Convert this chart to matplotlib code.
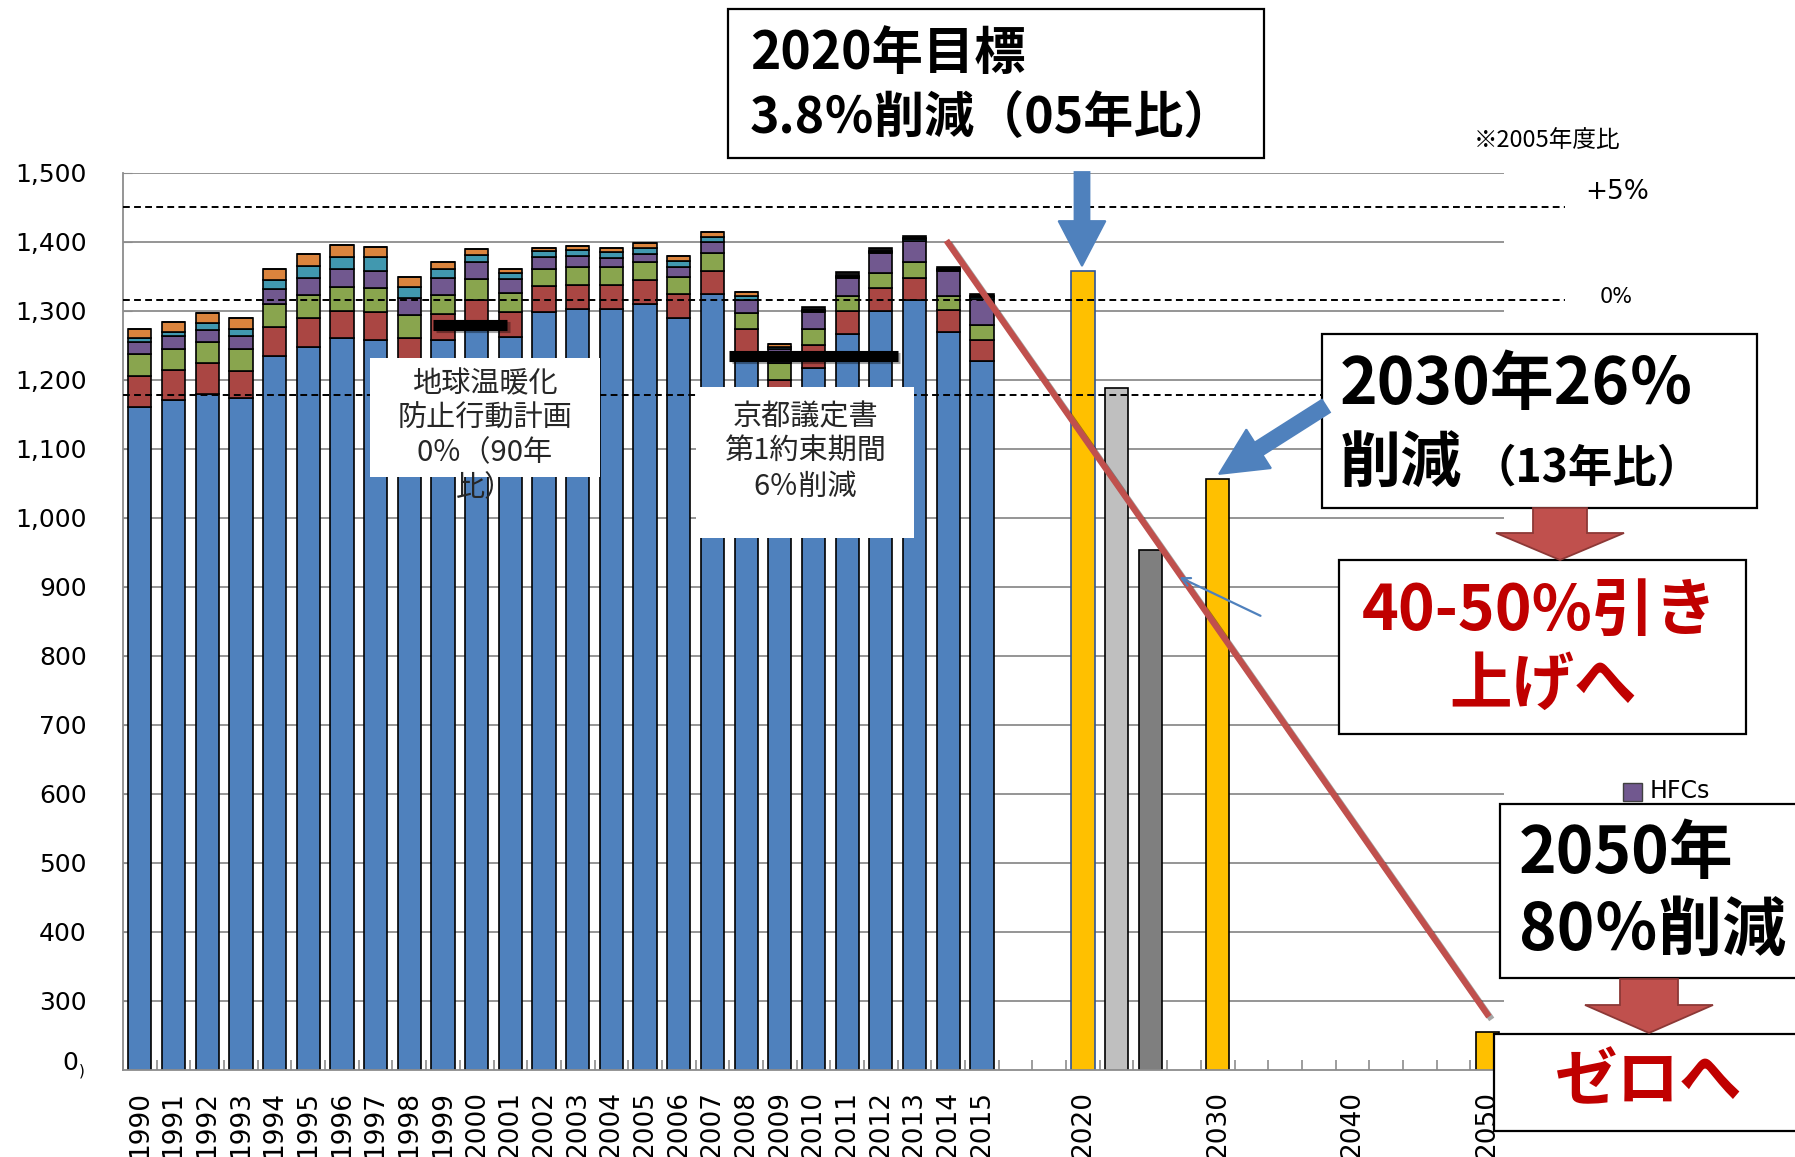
import numpy as np
import matplotlib.pyplot as plt
from matplotlib.patches import Rectangle, Polygon, FancyArrowPatch
import matplotlib.patheffects as pe

plt.rcParams['font.family'] = ['DejaVu Sans']
JP = ['Noto Sans CJK JP', 'DejaVu Sans']

W, H = 1795, 1157

# emissions by gas (Mt-CO2eq)
years = list(range(1990, 2016))
co2 = [1161, 1170, 1180, 1173, 1234, 1248, 1260, 1258, 1221, 1257, 1275, 1262, 1298,
       1303, 1302, 1310, 1289, 1324, 1240, 1166, 1217, 1266, 1299, 1315, 1269, 1227]
ch4 = [45, 43.5, 44, 40, 43, 42, 40.3, 40, 39.7, 38.5, 41, 35.6, 37.2,
       34.6, 35.6, 35, 35, 34.3, 33.4, 34, 34, 34, 33.7, 33, 31.5, 31]
n2o = [32, 30.8, 31, 31, 32.5, 32.5, 34.7, 35.6, 33.3, 27.5, 30, 27.4, 25.8,
       26.4, 26.4, 25, 25.6, 25.1, 24, 24, 22.5, 21, 21.3, 22, 21.5, 20.8]
hfcs = [16, 18.4, 17.3, 19, 21.5, 25.5, 25, 24.1, 24, 24, 24, 21, 16.6,
        15.5, 12, 12, 14.4, 16.8, 18.4, 20, 24.1, 26, 29, 31.7, 35, 38.5]
pfcs = [7, 6.7, 9.7, 11, 14, 17.4, 18.4, 19.8, 17, 13.6, 11, 9.4, 8.4,
        8.5, 9, 9.6, 8.3, 7.3, 6.2, 4, 2, 2, 2, 2, 2, 2]
sf6 = [12, 14.6, 15, 15, 15, 16.6, 16.6, 14.9, 13.5, 9.4, 8, 5.8, 5.6,
       6, 6, 5.9, 6.3, 6.2, 5.7, 4, 2, 2, 2, 2, 2, 2]
nf3 = [0] * 20 + [4.4, 4.5, 4.5, 2.7, 3, 3.3]
gases = [co2, ch4, n2o, hfcs, pfcs, sf6, nf3]
gas_colors = ['#4F81BD', '#AA4643', '#89A54E', '#71588F', '#4198AF', '#DB843D', '#111111']

# target / projection bars (category slots after 2015)
future_pos = [28, 29, 30, 32, 40]
future_vals = [1358, 1188, 954, 1056, 255]
future_colors = ['#FFC000', '#BFBFBF', '#7F7F7F', '#FFC000', '#FFC000']
future_edges = ['#2F5597', 'black', 'black', 'black', 'black']

tick_pos = list(range(26)) + [28, 32, 36, 40]
tick_labels = [str(y) for y in years] + ['2020', '2030', '2040', '2050']

ref_levels = [1451, 1316, 1178]
target_bars = [(8.7, 10.9, 1280), (17.5, 22.5, 1235)]
trend = ([24.0, 40.0], [1398, 281])

fig = plt.figure(figsize=(W / 100, H / 100), dpi=100)
ax = fig.add_axes([123 / W, 1 - 1070 / H, 1381 / W, (1070 - 172.7) / H])

x = np.arange(len(years))
bottom = np.zeros(len(years))
for vals, c in zip(gases, gas_colors):
    ax.bar(x, vals, 0.69, bottom=bottom, color=c, edgecolor='black', lw=1.2, zorder=2)
    bottom += np.array(vals)

ax.bar(future_pos, future_vals, 0.69, color=future_colors, edgecolor=future_edges,
       lw=1.2, zorder=2)

ax.set_xlim(-0.5, 40.5)
ax.set_ylim(200, 1500)
ax.set_yticks(range(300, 1501, 100))
ax.set_yticklabels([f'{v:,}' for v in range(300, 1501, 100)])
ax.yaxis.grid(True, color='#8C8C8C', lw=1.3)
ax.set_axisbelow(True)
ax.tick_params(axis='y', direction='in', length=6.5, color='#8C8C8C', labelsize=18, pad=26)
ax.set_xticks(tick_pos)
ax.set_xticklabels(tick_labels, rotation=90, fontsize=19)
ax.tick_params(axis='x', length=0, pad=15)
ax.set_xticks(np.arange(-0.5, 40.6, 1), minor=True)
ax.tick_params(axis='x', which='minor', direction='in', length=7, color='#8C8C8C', width=1.2)
for s in ['top', 'right']:
    ax.spines[s].set_visible(False)
for s in ['left', 'bottom']:
    ax.spines[s].set_color('#8C8C8C')
    ax.spines[s].set_linewidth(1.3)

# reference dashed levels
x_end = (1565 - 123) / (1381 / 41) - 0.5
for lv in ref_levels:
    ax.plot([-0.5, x_end], [lv, lv], color='black', lw=1.4, ls=(0, (3.5, 2.2)),
            clip_on=False, zorder=4)

shadow = [pe.SimpleLineShadow(offset=(2, -2), alpha=0.35), pe.Normal()]
for x0, x1, lv in target_bars:
    ax.plot([x0, x1], [lv, lv], color='black', lw=8, solid_capstyle='butt', zorder=5,
            path_effects=shadow)
ax.plot(trend[0], trend[1], color='#C0504D', lw=4.5, clip_on=False, zorder=6,
        path_effects=shadow)

# "0" at the bottom of the broken axis
fig.text(78 / W, 1 - 1070 / H, '0', fontsize=18, ha='right', va='baseline')
fig.text(79 / W, 1 - 1076 / H, ')', fontsize=11, ha='left', va='baseline')


def fx(v):
    return v / W


def fy(v):
    return 1 - v / H


def put(px, py, s, size, color='black', weight='normal', ha='left', family=JP):
    fig.text(fx(px), fy(py), s, fontsize=size, color=color, fontweight=weight,
             ha=ha, va='baseline', family=family, zorder=12)


def box(x0, y0, x1, y1, edge='black'):
    fig.add_artist(Rectangle((fx(x0), fy(y1)), (x1 - x0) / W, (y1 - y0) / H,
                             transform=fig.transFigure, facecolor='white',
                             edgecolor=edge, lw=1.6, zorder=10))


def block_arrow(tail, tip, shaft_w, head_w, head_len, face, edge):
    t = np.array(tail, float)
    p = np.array(tip, float)
    d = (p - t) / np.hypot(*(p - t))
    n = np.array([-d[1], d[0]])
    b = p - d * head_len
    pts = [t + n * shaft_w / 2, b + n * shaft_w / 2, b + n * head_w / 2, p,
           b - n * head_w / 2, b - n * shaft_w / 2, t - n * shaft_w / 2]
    fig.add_artist(Polygon([(fx(a), fy(c)) for a, c in pts], closed=True,
                           transform=fig.transFigure, facecolor=face,
                           edgecolor=edge, lw=1.3, zorder=11))


# plan boxes inside the plot
box(370, 358, 600, 477, edge='none')
for s, yb in zip(['地球温暖化', '防止行動計画', '0％（90年', '比）'], [392, 427, 461, 496]):
    put(485, yb, s, 21, color='#262626', ha='center')
box(696, 387, 914, 538, edge='none')
for s, yb in zip(['京都議定書', '第1約束期間', '6％削減'], [425, 460, 495]):
    put(805, yb, s, 21, color='#262626', ha='center')

# 2020 target
box(728, 9, 1264, 158)
put(750, 69, '2020年目標', 37, weight='bold')
put(750, 133, '3.8％削減（05年比）', 36, weight='bold')
block_arrow((1082, 172), (1082, 266), 15, 47, 45, '#4F81BD', '#4F81BD')

put(1474, 147, '※2005年度比', 17)
put(1585, 199, '+5%', 19, family=['DejaVu Sans'])
put(1600, 303, '0%', 15, family=['DejaVu Sans'])

# 2030 target
box(1322, 334, 1757, 508)
put(1340, 404, '2030年26％', 46, weight='bold')
put(1340, 482, '削減', 44, weight='bold')
put(1472, 482, '（13年比）', 32, weight='bold')
block_arrow((1326, 406), (1219, 474), 15, 46, 47, '#4F81BD', '#4F81BD')
fig.add_artist(FancyArrowPatch((fx(1263), fy(617)), (fx(1177), fy(576)),
                               transform=fig.transFigure, arrowstyle='->,head_length=6,head_width=3',
                               color='#4F81BD', lw=1.6, zorder=11))

block_arrow((1560, 508), (1560, 560), 54, 128, 27, '#C0504D', '#8C3836')
box(1339, 560, 1746, 734)
put(1540, 630, '40-50%引き', 45, color='#C00000', weight='bold', ha='center')
put(1543, 704, '上げへ', 45, color='#C00000', weight='bold', ha='center')

# 2050 target
fig.add_artist(Rectangle((fx(1623), fy(801)), 19 / W, 18 / H, transform=fig.transFigure,
                         facecolor='#71588F', edgecolor='#404040', lw=1, zorder=9))
put(1650, 798, 'HFCs', 17, family=['DejaVu Sans'])
box(1500, 804, 1800, 978)
put(1519, 873, '2050年', 46, weight='bold')
put(1519, 950, '80％削減', 46, weight='bold')
block_arrow((1649, 979), (1649, 1033), 58, 128, 28, '#C0504D', '#8C3836')
box(1494, 1034, 1800, 1131)
put(1649, 1100, 'ゼロへ', 45, color='#C00000', weight='bold', ha='center')

plt.savefig('out.png', dpi=100)
